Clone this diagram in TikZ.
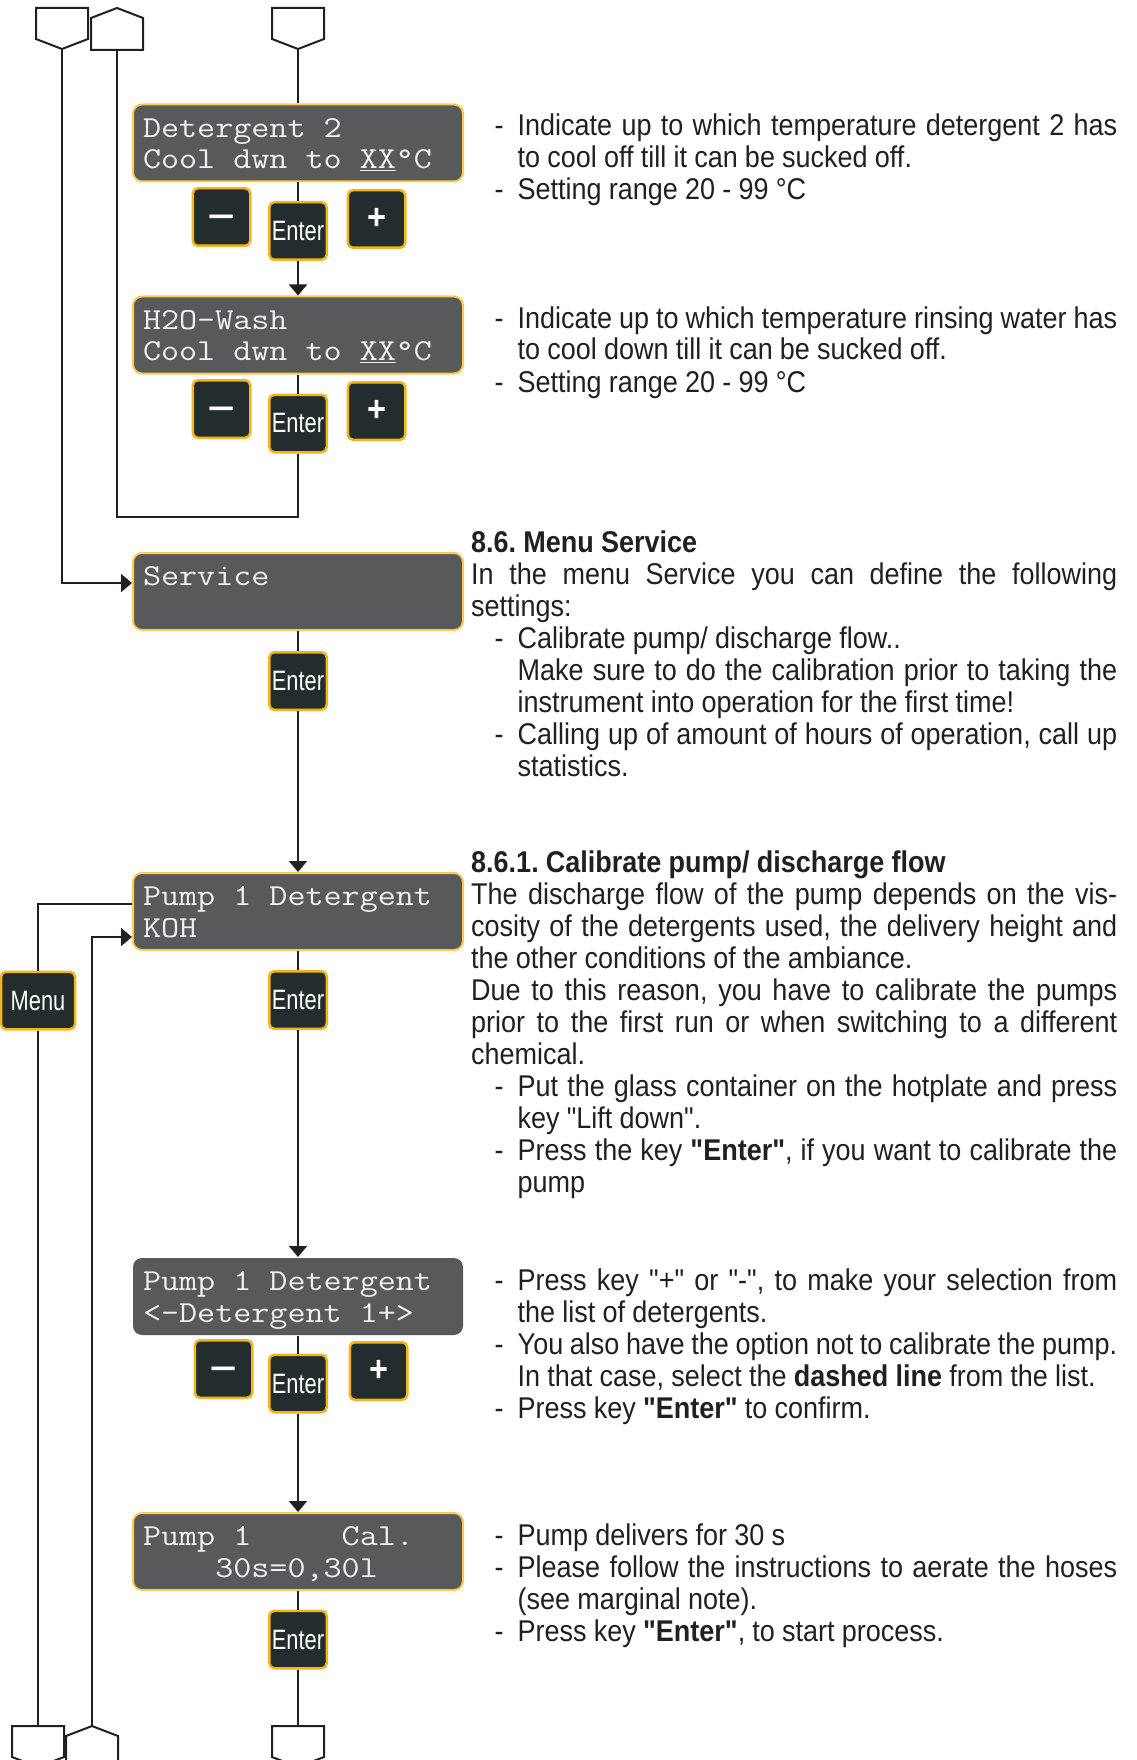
\documentclass[tikz,border=0pt]{standalone}
\usepackage{fontspec}
\usepackage{xcolor}
\usetikzlibrary{arrows.meta,calc}

\newfontfamily\bodyfont[FakeStretch=0.9]{Liberation Sans}
\newfontfamily\lcdfont[FakeStretch=1.15]{Latin Modern Mono}
\newfontfamily\keyfont[FakeStretch=0.78]{Liberation Sans}

\definecolor{ink}{HTML}{231F20}
\definecolor{lcdfill}{HTML}{58595B}
\definecolor{lcdedge}{HTML}{FCCB52}
\definecolor{lcdtext}{HTML}{F0F0F0}
\definecolor{keyfill}{HTML}{232D2D}
\definecolor{keyedge}{HTML}{F4B41A}

% dash in front of a list line
\newcommand\dashitem{\leftskip=46.5pt\noindent\llap{\makebox[23pt][l]{-}}}
\newcommand\minussign{\raisebox{-9.5pt}[0pt][0pt]{\scalebox{1.45}[1]{–}}}
% one character cell of the display font for a blank
\newcommand\lcdsetup{\fontdimen2\font=\fontcharwd\font`M
  \fontdimen3\font=0pt \fontdimen4\font=0pt \spaceskip=\fontdimen2\font}

\tikzset{
  flow/.style={draw=ink, line width=2pt},
  arr/.style={flow, -{Triangle[width=18pt,length=11pt]}},
  lcd/.style={draw=lcdedge, line width=2pt, fill=lcdfill, rounded corners=9pt,
    text width=310pt, inner xsep=10pt, inner ysep=0pt, minimum height=77pt,
    text height=32.7pt, text depth=44.3pt, align=left, text=lcdtext,
    font={\lcdfont\fontsize{30.5}{31.6}\selectfont\lcdsetup},
    execute at begin node={\lcdsetup}},
  lcdplain/.style={lcd, draw=none},
  key/.style={draw=keyedge, line width=2.5pt, fill=keyfill, rounded corners=5pt,
    minimum width=57.5pt, minimum height=57.5pt, inner sep=0pt, text=white,
    font=\keyfont\fontsize{28}{28}\selectfont},
  sign/.style={key, font=\bodyfont\bfseries\fontsize{36}{36}\selectfont},
  txt/.style={anchor=base west, inner sep=0pt, text width=646pt, align=justify,
    text=ink, font={\bodyfont\fontsize{30}{32}\selectfont\frenchspacing
      \spaceskip=0.24em plus 0.25em minus 0.045em},
    execute at begin node={\hyphenpenalty=10000\exhyphenpenalty=10000}},
}

\begin{document}
\begin{tikzpicture}[x=1pt,y=-1pt]
  \useasboundingbox (0,0) rectangle (1136,1760);
  \clip (0,0) rectangle (1136,1760);

  % connectors at the top
  \draw[flow] (36,8) -- (88,8) -- (88,39) -- (62,49) -- (36,39) -- cycle;
  \coordinate (c1) at (62,49);
  \draw[flow] (91,50) -- (91,18) -- (117,8) -- (143,18) -- (143,50) -- cycle;
  \coordinate (c2) at (117,50);
  \draw[flow] (272,8) -- (324,8) -- (324,39) -- (298,49) -- (272,39) -- cycle;
  \coordinate (c3) at (298,49);

  % connectors at the bottom
  \draw[flow] (12,1726) -- (64,1726) -- (64,1757) -- (38,1767) -- (12,1757) -- cycle;
  \coordinate (b1) at (38,1726);
  \draw[flow] (66,1780) -- (66,1736) -- (92,1726) -- (118,1736) -- (118,1780) -- cycle;
  \coordinate (b2) at (92,1726);
  \draw[flow] (272,1726) -- (324,1726) -- (324,1757) -- (298,1767) -- (272,1757) -- cycle;
  \coordinate (b3) at (298,1726);

  % displays
  \node[lcd] (det2) at (298,143) {Detergent 2\\Cool dwn to \underline{XX}°C};
  \node[lcd] (wash) at (298,335) {H2O-Wash\\Cool dwn to \underline{XX}°C};
  \node[lcd] (serv) at (298,591.5) {Service};
  \node[lcd] (pkoh) at (298,911.5) {Pump 1 Detergent\\KOH};
  \node[lcdplain] (psel) at (298,1296.5) {Pump 1 Detergent\\<-Detergent 1+>};
  \node[lcd] (pcal) at (298,1551.5) {Pump 1\phantom{XXXXX}Cal.\\\phantom{XXXX}30s=0,30l};

  % keys
  \node[sign] (minA) at (221.5,217) {\minussign};
  \node[key] (entA) at (298,231) {Enter};
  \node[sign] (plusA) at (376.5,219) {+};
  \node[sign] (minB) at (221.5,409) {\minussign};
  \node[key] (entB) at (298,423.5) {Enter};
  \node[sign] (plusB) at (376.5,411) {+};
  \node[key] (entS) at (298,681) {Enter};
  \node[key] (entK) at (298,1000) {Enter};
  \node[key, minimum width=74pt] (menu) at (38,1000.5) {Menu};
  \node[sign] (minC) at (223.5,1369) {\minussign};
  \node[key] (entC) at (298,1383.5) {Enter};
  \node[sign] (plusC) at (378.5,1371) {+};
  \node[key] (entD) at (298,1639.5) {Enter};

  % flow lines
  \coordinate (back) at (298,517);
  \draw[flow] (c3) -- (det2);
  \draw[flow] (det2) -- (entA);
  \draw[arr] (entA) -- (wash);
  \draw[flow] (wash) -- (entB);
  \draw[flow] (entB) -- (back) -| (c2);
  \draw[arr] (c1) |- ([yshift=8.5pt]serv.west);
  \draw[flow] (serv) -- (entS);
  \draw[arr] (entS) -- (pkoh);
  \draw[flow] ([yshift=7.5pt]pkoh.west) -| (menu.north);
  \draw[flow] (menu.south) -- (b1);
  \draw[arr] (b2) |- ([yshift=-25.5pt]pkoh.west);
  \draw[flow] (pkoh) -- (entK);
  \draw[arr] (entK) -- (psel);
  \draw[flow] (psel) -- (entC);
  \draw[arr] (entC) -- (pcal);
  \draw[flow] (pcal) -- (entD);
  \draw[flow] (entD) -- (b3);

  % explanations
  \node[txt] (txtA) at (471,136) {%
    \dashitem Indicate up to which temperature detergent 2 has\linebreak to cool off till it can be sucked off.\par
    \dashitem Setting range 20 - 99 °C\par};
  \node[txt] (txtB) at (471,328) {%
    \dashitem Indicate up to which temperature rinsing water has\linebreak to cool down till it can be sucked off.\par
    \dashitem Setting range 20 - 99 °C\par};
  \node[txt] (txtC) at (471,552) {%
    \textbf{8.6. Menu Service}\par
    In the menu Service you can define the following\linebreak settings:\par
    \dashitem Calibrate pump/ discharge flow..\newline Make sure to do the calibration prior to taking the\linebreak instrument into operation for the first time!\par
    \dashitem Calling up of amount of hours of operation, call up\linebreak statistics.\par};
  \node[txt] (txtD) at (471,872) {%
    \textbf{8.6.1. Calibrate pump/ discharge flow}\par
    The discharge flow of the pump depends on the vis-\linebreak cosity of the detergents used, the delivery height and\linebreak the other conditions of the ambiance.\par
    Due to this reason, you have to calibrate the pumps\linebreak prior to the first run or when switching to a different\linebreak chemical.\par
    \dashitem Put the glass container on the hotplate and press\linebreak key "Lift down".\par
    \dashitem Press the key \textbf{"Enter"}, if you want to calibrate the\linebreak pump\par};
  \node[txt] (txtE) at (471,1290) {%
    \dashitem Press key "+" or "-", to make your selection from\linebreak the list of detergents.\par
    \dashitem You also have the option not to calibrate the pump.\newline In that case, select the \textbf{dashed line} from the list.\par
    \dashitem Press key \textbf{"Enter"} to confirm.\par};
  \node[txt] (txtF) at (471,1545) {%
    \dashitem Pump delivers for 30 s\par
    \dashitem Please follow the instructions to aerate the hoses\linebreak (see marginal note).\par
    \dashitem Press key \textbf{"Enter"}, to start process.\par};
\end{tikzpicture}
\end{document}
